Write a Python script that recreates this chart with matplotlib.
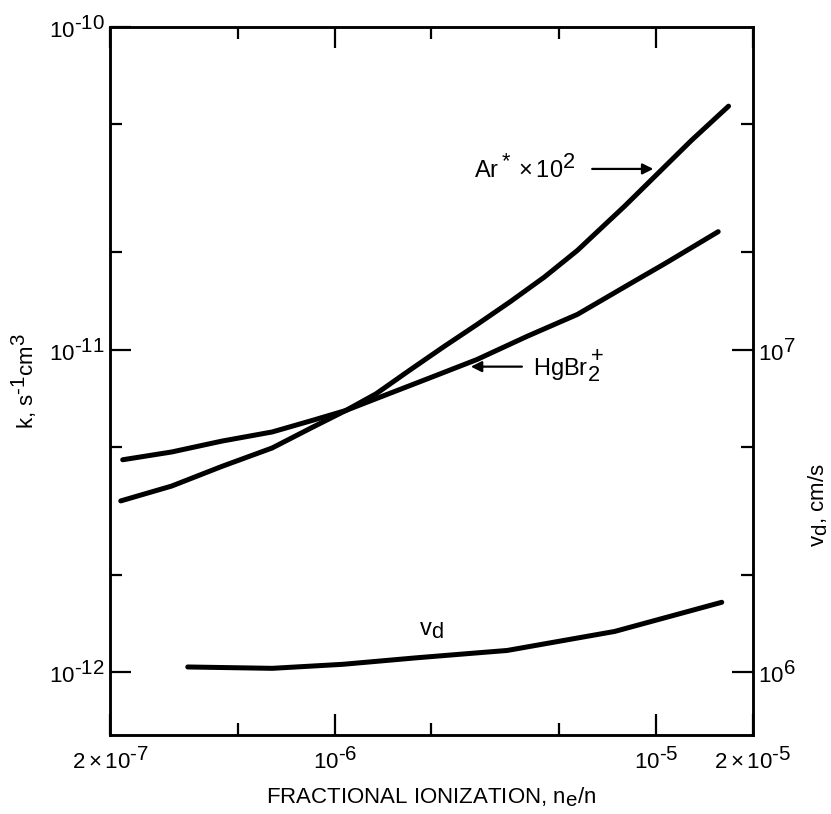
import numpy as np
import matplotlib
matplotlib.use("Agg")
import matplotlib.pyplot as plt
import matplotlib._mathtext as mathtext_internal
from matplotlib.ticker import FixedLocator, NullFormatter

plt.rcParams['font.family'] = 'Liberation Sans'
plt.rcParams['mathtext.fontset'] = 'custom'
plt.rcParams['mathtext.rm'] = 'Liberation Sans'
plt.rcParams['mathtext.it'] = 'Liberation Sans:italic'
plt.rcParams['mathtext.default'] = 'regular'
# nearly full-size super/subscripts, typewriter-style lettering
mathtext_internal.SHRINK_FACTOR = 0.92

# rate coefficients vs fractional ionization (k in cm^3/s)
ar_x = [2.16e-7, 3.11e-7, 4.46e-7, 6.39e-7, 8.53e-7, 1.083e-6, 1.345e-6, 1.706e-6,
        2.18e-6, 2.77e-6, 3.51e-6, 4.49e-6, 5.69e-6, 8.0e-6, 1.014e-5, 1.288e-5, 1.68e-5]
ar_k = [3.40e-12, 3.78e-12, 4.35e-12, 4.96e-12, 5.75e-12, 6.48e-12, 7.30e-12, 8.62e-12,
        1.02e-11, 1.196e-11, 1.406e-11, 1.678e-11, 2.03e-11, 2.79e-11, 3.52e-11,
        4.45e-11, 5.68e-11]

hg_x = [2.19e-7, 3.11e-7, 4.46e-7, 6.39e-7, 8.53e-7, 1.083e-6, 1.345e-6, 1.929e-6,
        2.77e-6, 3.97e-6, 5.69e-6, 8.6e-6, 1.067e-5, 1.56e-5]
hg_k = [4.56e-12, 4.82e-12, 5.21e-12, 5.56e-12, 6.04e-12, 6.48e-12, 7.05e-12, 8.10e-12,
        9.32e-12, 1.10e-11, 1.286e-11, 1.634e-11, 1.85e-11, 2.32e-11]

# drift velocity (cm/s), right axis
vd_x = [3.49e-7, 6.39e-7, 1.06e-6, 1.79e-6, 2.77e-6, 3.44e-6, 7.43e-6, 1.6e-5]
vd_v = [1.04e6, 1.03e6, 1.06e6, 1.11e6, 1.15e6, 1.17e6, 1.34e6, 1.65e6]

H = '\u2010'  # short hyphen for exponents
x_ticks = [2e-7, 1e-6, 1e-5, 2e-5]
x_labels = [r'$2\times10^{%s7}$' % H, r'$10^{%s6}$' % H, r'$10^{%s5}$' % H,
            r'$2\times10^{%s5}$' % H]
k_ticks = [1e-12, 1e-11, 1e-10]
k_labels = [r'$10^{%s12}$' % H, r'$10^{%s11}$' % H, r'$10^{%s10}$' % H]
v_ticks = [1e6, 1e7]
v_labels = [r'$10^{6}$', r'$10^{7}$']

k_lim = (6.4e-13, 1e-10)
scale = 1e18  # k -> v_d axis mapping

fig = plt.figure(figsize=(8.31, 8.14), dpi=100)
ax = fig.add_axes([0.1324, 0.097, 0.7736, 0.870])
ax2 = ax.twinx()

lw = 3.6
style = dict(color='k', lw=lw, solid_capstyle='round', solid_joinstyle='round')
ax.plot(ar_x, ar_k, **style)
ax.plot(hg_x, hg_k, **style)
ax2.plot(vd_x, vd_v, **style)

ax.set_xscale('log')
ax.set_yscale('log')
ax2.set_yscale('log')
ax.set_xlim(2e-7, 2e-5)
ax.set_ylim(*k_lim)
ax2.set_ylim(k_lim[0] * scale, k_lim[1] * scale)

ax.xaxis.set_major_locator(FixedLocator(x_ticks))
ax.set_xticklabels(x_labels)
ax.xaxis.set_minor_locator(FixedLocator([5e-7, 2e-6, 5e-6]))
ax.xaxis.set_minor_formatter(NullFormatter())

ax.yaxis.set_major_locator(FixedLocator(k_ticks))
ax.set_yticklabels(k_labels)
ax.yaxis.set_minor_locator(FixedLocator([2e-12, 5e-12, 2e-11, 5e-11]))
ax.yaxis.set_minor_formatter(NullFormatter())

ax2.yaxis.set_major_locator(FixedLocator(v_ticks))
ax2.set_yticklabels(v_labels)
ax2.yaxis.set_minor_locator(FixedLocator([2e6, 5e6, 2e7, 5e7]))
ax2.yaxis.set_minor_formatter(NullFormatter())

fs = 16
for a in (ax, ax2):
    for s in a.spines.values():
        s.set_linewidth(1.8)
    a.tick_params(which='major', direction='in', length=15, width=1.6,
                  labelsize=fs, pad=4)
    a.tick_params(which='minor', direction='in', length=8.5, width=1.6)
ax.tick_params(which='both', top=True, right=False)
ax.tick_params(axis='x', which='major', pad=9)

ax.set_xlabel(r'FRACTIONAL IONIZATION, n$_e$/n', fontsize=fs, labelpad=8)
ax.set_ylabel(r'k, s$^{%s1}$cm$^3$' % H, fontsize=fs)
ax.yaxis.set_label_coords(-0.11, 0.5)
ax2.set_ylabel(r'v$_d$, cm/s', fontsize=fs, rotation=90)
ax2.yaxis.set_label_coords(1.084, 0.325)

# curve labels
arrow = dict(arrowstyle='-|>', color='k', lw=1.6, mutation_scale=16)
ax.annotate('', xy=(1.0e-5, 3.63e-11), xytext=(6.2e-6, 3.63e-11), arrowprops=arrow)
ax.text(5.6e-6, 3.63e-11, r'Ar$^*\times10^2$', fontsize=17, ha='right', va='center')
ax.annotate('', xy=(2.6e-6, 8.86e-12), xytext=(3.9e-6, 8.86e-12), arrowprops=arrow)
ax.text(4.15e-6, 8.86e-12, r'HgBr$_2^+$', fontsize=17, ha='left', va='center')
ax.text(2.0e-6, 1.35e-12, r'v$_d$', fontsize=17, ha='center', va='center')

fig.savefig('out.png', dpi=100)
